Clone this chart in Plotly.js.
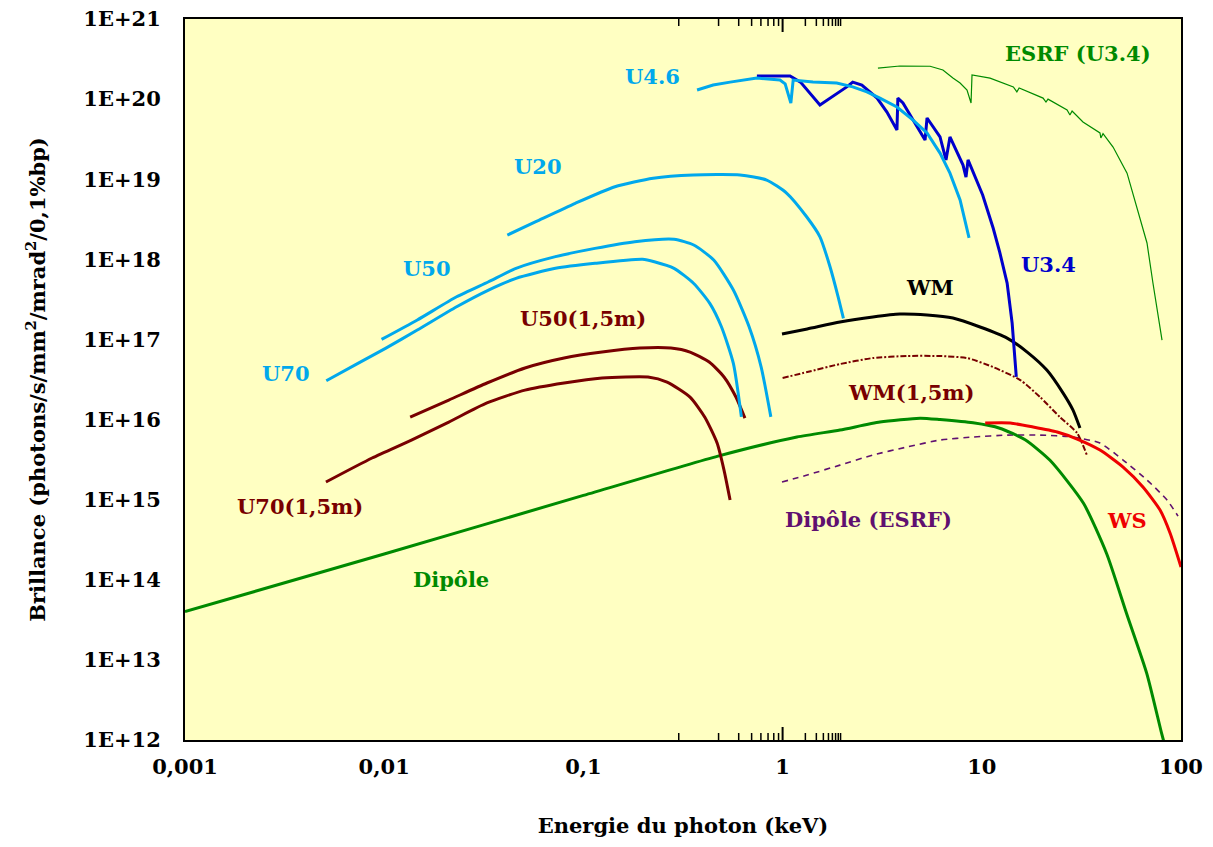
<!DOCTYPE html>
<html>
<head>
<meta charset="utf-8">
<script src="https://cdn.plot.ly/plotly-3.0.1.min.js"></script>
<style>html,body{margin:0;padding:0;background:#fff;}#chart{width:1213px;height:847px;}</style>
</head>
<body>
<div id="chart"></div>
<script>
// ---- axis ticks ----
const xTickVals = [0.001, 0.01, 0.1, 1, 10, 100];
const xTickText = ['0,001', '0,01', '0,1', '1', '10', '100'];
const yTickVals = [1e12, 1e13, 1e14, 1e15, 1e16, 1e17, 1e18, 1e19, 1e20, 1e21];
const yTickText = ['1E+12', '1E+13', '1E+14', '1E+15', '1E+16', '1E+17', '1E+18', '1E+19', '1E+20', '1E+21'];
const minorDigits = [2, 3, 4, 5, 6, 7, 8, 9];
const xMinorVals = [];
xTickVals.slice(0, -1).forEach(d => minorDigits.forEach(m => xMinorVals.push(d * m)));

// ---- series (energy keV, brilliance) ----
const dipoleE = [0.001, 0.01, 0.1, 0.474, 1.18, 1.94, 3.08, 4.90, 6.17, 9.04, 12.3, 16.5, 22.0, 32.4, 42.4, 53.3, 67.3, 80.0, 84.2];
const dipoleB = [4.0e13, 2.1e14, 1.13e15, 3.5e15, 6.05e15, 7.4e15, 9.3e15, 1.04e16, 1.0e16, 9.1e15, 7.8e15, 5.6e15, 3.1e15, 9.0e14, 2.1e14, 3.8e13, 6.8e12, 1.2e12, 7.5e11];

const u70E = [0.00512, 0.00738, 0.01015, 0.01466, 0.0231, 0.0334, 0.0459, 0.0724, 0.1143, 0.198, 0.227, 0.285, 0.358, 0.431, 0.493, 0.566, 0.621];
const u70B = [3.05e16, 5.03e16, 7.75e16, 1.31e17, 2.56e17, 4.14e17, 5.79e17, 7.72e17, 8.91e17, 1.0e18, 9.33e17, 7.72e17, 5.0e17, 2.82e17, 1.44e17, 5.03e16, 1.08e16];

const u50E = [0.0097, 0.01466, 0.0231, 0.0334, 0.0459, 0.0724, 0.1143, 0.181, 0.285, 0.358, 0.451, 0.566, 0.679, 0.780, 0.873];
const u50B = [1.0e17, 1.75e17, 3.41e17, 5.25e17, 7.72e17, 1.08e18, 1.37e18, 1.66e18, 1.78e18, 1.51e18, 9.8e17, 4.14e17, 1.44e17, 4.56e16, 1.08e16];

const u20E = [0.0415, 0.0577, 0.091, 0.144, 0.224, 0.356, 0.611, 0.832, 1.05, 1.32, 1.54, 1.73, 1.90, 2.02];
const u20B = [2.01e18, 2.95e18, 5.0e18, 8.06e18, 1.03e19, 1.13e19, 1.13e19, 9.77e18, 6.67e18, 3.40e18, 1.91e18, 8.09e17, 3.41e17, 1.83e17];

const u46E = [0.372, 0.448, 0.545, 0.743, 0.97, 1.03, 1.10, 1.13, 1.42, 1.87, 2.25, 2.65, 3.08, 3.75, 4.52, 5.31, 6.17, 6.92, 7.78, 8.63];
const u46B = [1.30e20, 1.50e20, 1.63e20, 1.83e20, 1.73e20, 1.55e20, 8.9e19, 1.73e20, 1.63e20, 1.59e20, 1.42e20, 1.23e20, 1.03e20, 7.97e19, 5.48e19, 3.78e19, 2.12e19, 1.19e19, 5.5e18, 1.85e18];

const u34E = [0.743, 1.09, 1.23, 1.54, 2.10, 2.25, 2.50, 2.98, 3.34, 3.75, 3.79, 4.02, 4.52, 5.19, 5.31, 6.17, 6.61, 6.92, 8.05, 8.33, 8.53, 9.46, 10.1, 11.4, 12.3, 13.4, 14.2, 14.9];
const u34B = [1.94e20, 1.94e20, 1.63e20, 8.44e19, 1.42e20, 1.63e20, 1.50e20, 1.03e20, 6.90e19, 4.11e19, 1.03e20, 8.94e19, 5.48e19, 3.08e19, 5.81e19, 3.37e19, 1.74e19, 3.37e19, 1.50e19, 1.06e19, 1.74e19, 9.23e18, 6.35e18, 2.46e18, 1.23e18, 5.06e17, 1.60e17, 3.40e16];

const esrfE = [3.01, 3.88, 5.50, 6.38, 7.16, 7.78, 8.43, 8.83, 8.93, 11.0, 14.4, 15.0, 15.4, 20.3, 21.0, 21.5, 26.8, 27.7, 28.4, 32.2, 39.2, 39.6, 40.6, 45.6, 53.6, 60.1, 67.5, 72.3, 80.3];
const esrfB = [2.44e20, 2.59e20, 2.57e20, 2.31e20, 1.83e20, 1.59e20, 1.30e20, 8.94e19, 2.0e20, 1.83e20, 1.42e20, 1.23e20, 1.38e20, 1.03e20, 9.2e19, 1.0e20, 7.31e19, 6.33e19, 7.1e19, 5.18e19, 3.78e19, 3.27e19, 3.7e19, 2.52e19, 1.19e19, 4.5e18, 1.60e18, 5.06e17, 9.8e16];

const wmE = [0.993, 1.33, 1.94, 2.84, 3.88, 5.31, 7.16, 9.80, 13.4, 16.9, 21.2, 25.6, 28.7, 31.1];
const wmB = [1.17e17, 1.35e17, 1.65e17, 1.91e17, 2.08e17, 2.02e17, 1.85e17, 1.43e17, 1.04e17, 6.96e16, 4.15e16, 2.14e16, 1.31e16, 7.83e15];

const wm15E = [1.0, 1.33, 1.94, 2.84, 4.21, 6.17, 8.43, 11.4, 15.6, 19.6, 24.7, 30.1, 33.7];
const wm15B = [3.30e16, 3.92e16, 4.93e16, 5.86e16, 6.21e16, 6.21e16, 5.86e16, 4.52e16, 3.11e16, 1.91e16, 1.07e16, 6.78e15, 3.6e15];

const wsE = [10.4, 13.9, 18.1, 23.9, 30.1, 39.2, 51.2, 64.4, 78.5, 88.1, 100];
const wsB = [9.04e15, 9.04e15, 8.06e15, 6.98e15, 5.71e15, 4.16e15, 2.55e15, 1.44e15, 7.41e14, 3.83e14, 1.44e14];

const dipEsrfE = [0.993, 1.33, 1.94, 2.84, 4.21, 6.17, 9.04, 13.4, 19.6, 28.7, 39.2, 51.2, 67.5, 85.1, 96.6];
const dipEsrfB = [1.66e15, 2.03e15, 2.70e15, 3.61e15, 4.54e15, 5.55e15, 6.05e15, 6.40e15, 6.40e15, 6.05e15, 5.09e15, 3.12e15, 1.76e15, 9.9e14, 6.24e14];

const u50mE = [0.0135, 0.0211, 0.0328, 0.0509, 0.080, 0.124, 0.192, 0.275, 0.343, 0.428, 0.508, 0.583, 0.647];
const u50mB = [1.07e16, 1.75e16, 2.86e16, 4.40e16, 5.86e16, 6.96e16, 7.81e16, 7.81e16, 6.96e16, 5.22e16, 3.40e16, 1.91e16, 1.04e16];

const u70mE = [0.0051, 0.00869, 0.0137, 0.0211, 0.0328, 0.0509, 0.080, 0.124, 0.211, 0.263, 0.343, 0.407, 0.469, 0.508, 0.545];
const u70mB = [1.66e15, 3.31e15, 5.55e15, 9.31e15, 1.61e16, 2.33e16, 2.86e16, 3.30e16, 3.40e16, 2.94e16, 1.91e16, 1.07e16, 5.09e15, 2.34e15, 9.9e14];

// ---- labels ----
const labelTexts = ['ESRF (U3.4)', 'U4.6', 'U20', 'U50', 'U70', 'U50(1,5m)', 'U70(1,5m)', 'Dipôle', 'WM', 'WM(1,5m)', 'U3.4', 'Dipôle (ESRF)', 'WS'];
const labelE = [30.4, 0.221, 0.0592, 0.0164, 0.00321, 0.0995, 0.00378, 0.0216, 5.50, 4.42, 21.5, 2.69, 53.6];
const labelB = [3.66e20, 1.94e20, 1.46e19, 7.78e17, 3.81e16, 1.80e17, 8.32e14, 1.02e14, 4.51e17, 2.20e16, 8.73e17, 5.73e14, 5.56e14];

const COL = {
  light: '#00A8EC', dark: '#0000CC', green: '#008A00', maroon: '#780000',
  black: '#000000', red: '#EE0000', purple: '#601070'
};
const labelColors = [COL.green, COL.light, COL.light, COL.light, COL.light, COL.maroon, COL.maroon, COL.green, COL.black, COL.maroon, COL.dark, COL.purple, COL.red];

function tr(x, y, color, width, dash, shape) {
  return { x: x, y: y, type: 'scatter', mode: 'lines', hoverinfo: 'skip',
    line: { color: color, width: width, dash: dash || 'solid', shape: shape || 'linear', smoothing: 0.6 } };
}

const data = [
  tr(dipEsrfE, dipEsrfB, COL.purple, 1.6, '6px,5px', 'spline'),
  tr(wm15E, wm15B, COL.maroon, 2, '6px,2px,2px,2px', 'spline'),
  tr(dipoleE, dipoleB, COL.green, 3, 'solid', 'spline'),
  tr(wsE, wsB, COL.red, 3, 'solid', 'spline'),
  tr(wmE, wmB, COL.black, 3, 'solid', 'spline'),
  tr(u70mE, u70mB, COL.maroon, 3, 'solid', 'spline'),
  tr(u50mE, u50mB, COL.maroon, 3, 'solid', 'spline'),
  tr(u70E, u70B, COL.light, 3, 'solid', 'spline'),
  tr(u50E, u50B, COL.light, 3, 'solid', 'spline'),
  tr(u20E, u20B, COL.light, 3, 'solid', 'spline'),
  tr(esrfE, esrfB, COL.green, 1.2, 'solid', 'linear'),
  tr(u34E, u34B, COL.dark, 3, 'solid', 'linear'),
  tr(u46E, u46B, COL.light, 3, 'solid', 'linear')
];

const FONT = 'DejaVu Serif';
const annotations = labelTexts.map((t, i) => ({
  text: t, x: Math.log10(labelE[i]), y: Math.log10(labelB[i]), xref: 'x', yref: 'y',
  showarrow: false, xanchor: 'center', yanchor: 'middle',
  font: { family: FONT, size: 21, color: labelColors[i], weight: 'bold' }
}));

// ---- inward tick marks (built from the tick arrays) ----
const W = 1213, H = 847, M = { l: 185, r: 32, t: 19, b: 107 };
const plotW = W - M.l - M.r, plotH = H - M.t - M.b;
const MAJOR = 13, MINOR = 7;
const shapes = [];
function xTick(v, len, width) {
  const lx = Math.log10(v);
  [[0, len / plotH], [1, 1 - len / plotH]].forEach(([a, b]) => shapes.push({
    type: 'line', xref: 'x', yref: 'paper', x0: lx, x1: lx, y0: a, y1: b,
    line: { color: '#000', width: width }, layer: 'above'
  }));
}
function yTick(v, len, width) {
  const ly = Math.log10(v);
  [[0, len / plotW], [1, 1 - len / plotW]].forEach(([a, b]) => shapes.push({
    type: 'line', xref: 'paper', yref: 'y', x0: a, x1: b, y0: ly, y1: ly,
    line: { color: '#000', width: width }, layer: 'above'
  }));
}
xTickVals.slice(1, -1).forEach(v => xTick(v, MAJOR, 2));
xMinorVals.forEach(v => xTick(v, MINOR, 1.5));
yTickVals.slice(1, -1).forEach(v => yTick(v, MAJOR, 2));

const axisCommon = {
  showline: true, linewidth: 2, linecolor: '#000', mirror: true,
  ticks: '', showgrid: false, zeroline: false,
  tickfont: { family: FONT, size: 21, color: '#000', weight: 'bold' }
};

const layout = {
  width: W, height: H,
  margin: M,
  paper_bgcolor: '#ffffff', plot_bgcolor: '#FFFFC2',
  showlegend: false,
  font: { family: FONT, size: 21, color: '#000' },
  xaxis: Object.assign({}, axisCommon, {
    type: 'log', range: [-3, 2], tickmode: 'array', tickvals: xTickVals, ticktext: xTickText,
    ticklabelstandoff: 7,
    title: { text: 'Energie du photon (keV)', standoff: 40, font: { family: FONT, size: 21, color: '#000', weight: 'bold' } }
  }),
  yaxis: Object.assign({}, axisCommon, {
    type: 'log', range: [12, 21], tickmode: 'array', tickvals: yTickVals, ticktext: yTickText,
    ticklabelstandoff: 18,
    title: { text: 'Brillance (photons/s/mm<sup>2</sup>/mrad<sup>2</sup>/0,1%bp)', standoff: 32, font: { family: FONT, size: 21, color: '#000', weight: 'bold' } }
  }),
  shapes: shapes,
  annotations: annotations
};

Plotly.newPlot('chart', data, layout, { staticPlot: true, displayModeBar: false });
</script>
</body>
</html>
